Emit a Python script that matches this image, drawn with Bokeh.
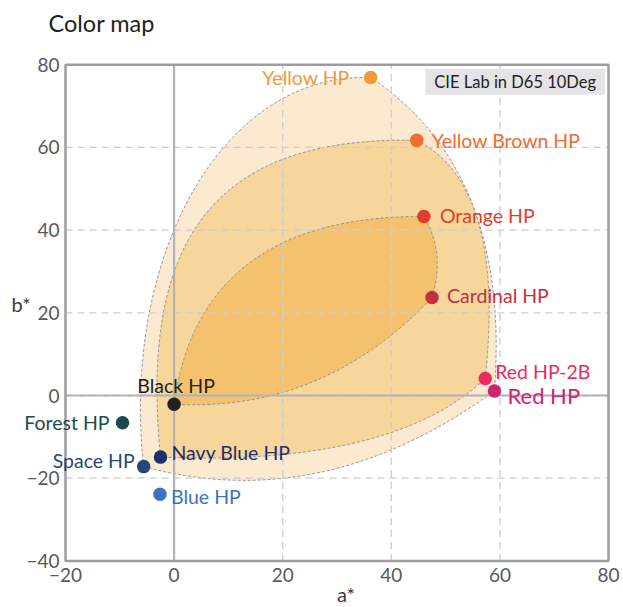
import numpy as np
from bokeh.plotting import figure
from bokeh.models import ColumnDataSource, Label, FixedTicker
from bokeh.embed import file_html
from bokeh.resources import INLINE

# ---------------- data ----------------
names = ["Yellow HP", "Yellow Brown HP", "Orange HP", "Cardinal HP", "Red HP-2B", "Red HP",
         "Black HP", "Forest HP", "Navy Blue HP", "Space HP", "Blue HP"]
a_star = [36.2, 44.7, 46.0, 47.5, 57.3, 59.0, 0.0, -9.5, -2.5, -5.6, -2.6]
b_star = [76.9, 61.7, 43.3, 23.7, 4.1, 1.1, -2.1, -6.6, -14.9, -17.2, -23.9]
colors = ["#F2993A", "#F26B2F", "#E23B2E", "#C1313F", "#EC2A5F", "#D0256E",
          "#231F20", "#1C4A4C", "#1F2F6B", "#284679", "#3B73C1"]

x_ticks = [-20, 0, 20, 40, 60, 80]
y_ticks = [-40, -20, 0, 20, 40, 60, 80]

# gamut regions: corner samples and Bezier handles (a*, b*) of each edge
outer_corners = ["Space HP", "Yellow HP", "Red HP"]
outer_handles = [[(-9.8, 32.6), (8.4, 78.1)], [(62.0, 54.4)], [(27.5, -29.0)]]
middle_corners = ["Navy Blue HP", "Yellow Brown HP", "Red HP-2B"]
middle_handles = [[(-6.2, 35.1), (5.6, 62.9)], [(61.1, 50.8)], [(40.2, -17.2)]]
inner_corners = ["Black HP", "Orange HP", "Cardinal HP"]
inner_handles = [[(4.7, 43.5)], [(50.0, 34.6)], [(27.5, -4.1)]]

title_text = "Color map"
note_text = "CIE Lab in D65 10Deg"
x_title = "a*"
y_title = "b*"

# ---------------- layout / styles ----------------
W, H = 623, 607
FRAME_TOP = 40                       # frame spans the canvas below the title
BOX_L, BOX_R, BOX_T, BOX_B = 65.0, 608.0, 64.2, 560.4   # pixel box of the tick span
FONT = "Lato"

# align, x offset px, y offset px (down positive), font size
label_style = {
    "Yellow HP": ("right", -21, 0, "19.5px"),
    "Yellow Brown HP": ("left", 15, 0, "19.5px"),
    "Orange HP": ("left", 16, -1, "19.5px"),
    "Cardinal HP": ("left", 15, -2, "19.5px"),
    "Red HP-2B": ("left", 10, -7, "19.5px"),
    "Red HP": ("left", 13, 5, "22px"),
    "Black HP": ("center", 2, -19, "19.5px"),
    "Forest HP": ("right", -13, 0, "19.5px"),
    "Navy Blue HP": ("left", 11, -5, "19.5px"),
    "Space HP": ("right", -9, -6, "19.5px"),
    "Blue HP": ("left", 11, 2, "19.5px"),
}
region_fills = ["#FBE9D0", "#F7D69C", "#F4C26E"]


def bezier(p0, hs, p1, n=80):
    t = np.linspace(0.0, 1.0, n)[:, None]
    a = np.array(p0, dtype=float)
    b = np.array(p1, dtype=float)
    if len(hs) == 1:
        c = np.array(hs[0], dtype=float)
        return (1 - t) ** 2 * a + 2 * (1 - t) * t * c + t ** 2 * b
    c1 = np.array(hs[0], dtype=float)
    c2 = np.array(hs[1], dtype=float)
    return ((1 - t) ** 3 * a + 3 * (1 - t) ** 2 * t * c1
            + 3 * (1 - t) * t ** 2 * c2 + t ** 3 * b)


def region(corners, handles):
    pts = []
    for i, nm in enumerate(corners):
        j = names.index(nm)
        k = names.index(corners[(i + 1) % len(corners)])
        pts.append(bezier((a_star[j], b_star[j]), handles[i], (a_star[k], b_star[k])))
    arr = np.vstack(pts)
    return arr[:, 0], arr[:, 1]


# ranges so that the tick span sits on the wanted pixel box
x0, x1 = x_ticks[0], x_ticks[-1]
y0, y1 = y_ticks[0], y_ticks[-1]
sx = (BOX_R - BOX_L) / (x1 - x0)
sy = (BOX_B - BOX_T) / (y1 - y0)
x_range = (x0 - BOX_L / sx, x1 + (W - BOX_R) / sx)
y_range = (y0 - (H - BOX_B) / sy, y1 + (BOX_T - FRAME_TOP) / sy)

p = figure(width=W, height=H, x_range=x_range, y_range=y_range,
           output_backend="svg", toolbar_location=None,
           min_border_left=0, min_border_right=0, min_border_top=FRAME_TOP,
           min_border_bottom=0)
p.background_fill_color = "white"
p.border_fill_color = "white"
p.outline_line_color = None
p.xgrid.visible = False
p.ygrid.visible = False

p.title.text = title_text
p.title.text_font = FONT
p.title.text_font_size = "23.5px"
p.title.text_font_style = "normal"
p.title.text_color = "#231F20"
p.title.align = "left"
p.title.offset = 48
p.title.standoff = 7

# axes drawn at the box edges
for ax in (p.xaxis[0], p.yaxis[0]):
    ax.major_tick_in = 0
    ax.major_tick_out = 0
    ax.minor_tick_in = 0
    ax.minor_tick_out = 0
    ax.axis_line_color = None
    ax.major_label_text_font = FONT
    ax.major_label_text_font_size = "19px"
    ax.major_label_text_color = "#58595B"
p.xaxis.ticker = FixedTicker(ticks=x_ticks)
p.yaxis.ticker = FixedTicker(ticks=y_ticks)
p.xaxis.fixed_location = y0
p.yaxis.fixed_location = x0
p.xaxis.major_label_standoff = 7
p.yaxis.major_label_standoff = 6

# regions
for (corners, handles), fill in zip(
        [(outer_corners, outer_handles), (middle_corners, middle_handles),
         (inner_corners, inner_handles)], region_fills):
    xs, ys = region(corners, handles)
    p.patch(xs, ys, fill_color=fill, line_color="#8C8C8C", line_width=0.9,
            line_dash="3 2")

# dashed grid inside the box
gx = [t for t in x_ticks[1:-1]]
gy = [t for t in y_ticks[1:-1]]
p.segment(x0=gx, y0=[y0] * len(gx), x1=gx, y1=[y1] * len(gx),
          line_color="#CDCDD0", line_width=1.3, line_dash="7 5")
p.segment(x0=[x0] * len(gy), y0=gy, x1=[x1] * len(gy), y1=gy,
          line_color="#CDCDD0", line_width=1.3, line_dash="7 5")

# zero lines
p.segment(x0=[0, x0], y0=[y0, 0], x1=[0, x1], y1=[y1, 0],
          line_color="#B3B3B7", line_width=2.2)

# box
p.quad(left=[x0], right=[x1], bottom=[y0], top=[y1], fill_color=None,
       line_color="#9D9DA0", line_width=2.5)

# points
src = ColumnDataSource(dict(a=a_star, b=b_star, name=names, color=colors))
p.scatter("a", "b", source=src, size=13.5, fill_color="color", line_color=None)

# point labels
for nm, aa, bb, col in zip(names, a_star, b_star, colors):
    al, xo, yo, fs = label_style[nm]
    p.add_layout(Label(x=aa, y=bb, text=nm, text_color=col, text_font=FONT,
                       text_font_size=fs, text_align=al, text_baseline="middle",
                       x_offset=xo, y_offset=-yo))

# axis titles and note (screen units measured from the frame's bottom-left)
p.add_layout(Label(x=345.5, y=2, x_units="screen", y_units="screen", text=x_title,
                   text_font=FONT, text_font_size="20px", text_color="#3A3A3C",
                   text_align="center", text_baseline="bottom"))
p.add_layout(Label(x=11, y=304, x_units="screen", y_units="screen", text=y_title,
                   text_font=FONT, text_font_size="20px", text_color="#3A3A3C",
                   text_align="left", text_baseline="middle"))
p.add_layout(Label(x=514.7, y=525.7, x_units="screen", y_units="screen", text=note_text,
                   text_font=FONT, text_font_size="16.5px", text_color="#231F20",
                   text_align="center", text_baseline="middle",
                   background_fill_color="#E4E4E6",
                   padding=dict(left=9, right=9, top=3, bottom=3)))

open("out.html", "w").write(file_html(p, INLINE))
